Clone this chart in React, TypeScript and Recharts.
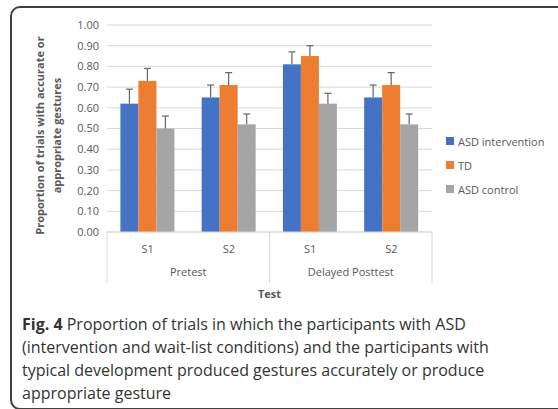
import React from 'react';
import { BarChart, Bar, XAxis, YAxis, CartesianGrid } from 'recharts';

// chart values
const tests = ['S1', 'S2', 'S1', 'S2'];
const phases = ['Pretest', 'Pretest', 'Delayed Posttest', 'Delayed Posttest'];
const asdIntervention = [0.62, 0.65, 0.81, 0.65];
const td = [0.73, 0.71, 0.85, 0.71];
const asdControl = [0.5, 0.52, 0.62, 0.52];
const asdInterventionErr = [0.07, 0.06, 0.06, 0.06];
const tdErr = [0.06, 0.06, 0.05, 0.06];
const asdControlErr = [0.06, 0.05, 0.05, 0.05];
const yTicks = [0, 0.1, 0.2, 0.3, 0.4, 0.5, 0.6, 0.7, 0.8, 0.9, 1.0];

const series = [
  { key: 'asdIntervention', name: 'ASD intervention', color: '#4472C4', err: asdInterventionErr },
  { key: 'td', name: 'TD', color: '#ED7D31', err: tdErr },
  { key: 'asdControl', name: 'ASD control', color: '#A5A5A5', err: asdControlErr },
];

const data = tests.map((t, i) => ({
  test: t,
  phase: phases[i],
  asdIntervention: asdIntervention[i],
  td: td[i],
  asdControl: asdControl[i],
}));

const W = 558;
const H = 310;
const MARGIN = { top: 25, right: 126, left: 0, bottom: 0 };
const Y_WIDTH = 107;
const X_HEIGHT = 78;
const BAND = (W - MARGIN.left - MARGIN.right - Y_WIDTH) / tests.length;

const FONT = '"Open Sans", sans-serif';
const TEXT = '#595959';
const GRID = '#d9d9d9';

// bar with a one-sided (upper) error whisker
function makeErrorShape(dataKey: string, errs: number[]) {
  return (props: any) => {
    const { x, y, width, height, fill, index, payload } = props;
    const v = payload[dataKey];
    const perUnit = v ? height / v : 0;
    const cx = x + width / 2;
    const top = y - errs[index] * perUnit;
    return (
      <g>
        <rect x={x} y={y} width={width} height={height} fill={fill} />
        <line x1={cx} y1={y} x2={cx} y2={top} stroke="#666" strokeWidth={1.2} />
        <line x1={cx - 3.5} y1={top} x2={cx + 3.5} y2={top} stroke="#666" strokeWidth={1.2} />
      </g>
    );
  };
}

function CategoryTick(props: any) {
  const { x, y, payload, index } = props;
  const first = index === 0 || phases[index] !== phases[index - 1];
  const last = index === phases.length - 1 || phases[index] !== phases[index + 1];
  let groupSize = 1;
  if (first) {
    while (phases[index + groupSize] === phases[index]) groupSize++;
  }
  return (
    <g>
      <text x={x} y={y + 21} textAnchor="middle" fill={TEXT} fontSize={11} fontFamily={FONT}>
        {payload.value}
      </text>
      {first && (
        <>
          <line x1={x - BAND / 2} y1={y} x2={x - BAND / 2} y2={y + 51} stroke={GRID} />
          <text
            x={x + ((groupSize - 1) * BAND) / 2}
            y={y + 44}
            textAnchor="middle"
            fill={TEXT}
            fontSize={11}
            fontFamily={FONT}
          >
            {phases[index]}
          </text>
        </>
      )}
      {last && <line x1={x + BAND / 2} y1={y} x2={x + BAND / 2} y2={y + 51} stroke={GRID} />}
    </g>
  );
}

function YLabel(props: any) {
  const { viewBox } = props;
  const cy = viewBox.y + viewBox.height / 2 + 7;
  const lines = [
    { text: 'Proportion of trials with accurate or', x: 44 },
    { text: 'appropriate gestures', x: 61 },
  ];
  return (
    <g>
      {lines.map((l) => (
        <text
          key={l.text}
          x={l.x}
          y={cy}
          transform={`rotate(-90 ${l.x} ${cy})`}
          textAnchor="middle"
          fill={TEXT}
          fontSize={11}
          fontWeight="bold"
          fontFamily={FONT}
        >
          {l.text}
        </text>
      ))}
    </g>
  );
}

export default function App() {
  return (
    <div
      style={{
        position: 'absolute',
        left: 0,
        top: 0,
        width: W,
        height: 409,
        overflow: 'hidden',
        background: '#fff',
      }}
    >
      {/* rounded frame of the figure */}
      <div
        style={{
          position: 'absolute',
          left: 10,
          top: 6,
          width: 600,
          height: 400,
          border: '2px solid #3f3f3f',
          borderRadius: 10,
        }}
      />

      <div style={{ position: 'absolute', left: 0, top: 0 }}>
        <BarChart width={W} height={H} data={data} margin={MARGIN} barCategoryGap="16.5%" barGap={0}>
          <CartesianGrid vertical={false} stroke={GRID} />
          <XAxis
            dataKey="test"
            height={X_HEIGHT}
            interval={0}
            axisLine={{ stroke: GRID }}
            tickLine={false}
            tickSize={0}
            tickMargin={0}
            tick={<CategoryTick />}
            label={{
              value: 'Test',
              position: 'insideBottom',
              offset: 12,
              fill: TEXT,
              fontSize: 11,
              fontWeight: 'bold',
              fontFamily: FONT,
            }}
          />
          <YAxis
            width={Y_WIDTH}
            domain={[0, 1]}
            ticks={yTicks}
            interval={0}
            axisLine={false}
            tickLine={false}
            tickFormatter={(v: number) => v.toFixed(2)}
            tick={{ fill: TEXT, fontSize: 11, fontFamily: FONT }}
            label={<YLabel />}
          />
          {series.map((s) => (
            <Bar
              key={s.key}
              dataKey={s.key}
              name={s.name}
              fill={s.color}
              isAnimationActive={false}
              shape={makeErrorShape(s.key, s.err)}
            />
          ))}
        </BarChart>
      </div>

      {/* legend */}
      <div style={{ position: 'absolute', left: 446, top: 129, fontFamily: FONT, fontSize: 11, color: TEXT }}>
        {series.map((s) => (
          <div key={s.key} style={{ display: 'flex', alignItems: 'center', height: 24 }}>
            <span style={{ width: 8, height: 8, background: s.color, marginRight: 4, display: 'inline-block' }} />
            <span>{s.name}</span>
          </div>
        ))}
      </div>

      {/* caption */}
      <div
        style={{
          position: 'absolute',
          left: 22,
          top: 313,
          width: 496,
          fontFamily: FONT,
          fontSize: 16,
          lineHeight: '23px',
          color: '#333',
        }}
      >
        <span style={{ fontWeight: 'bold' }}>Fig. 4</span> Proportion of trials in which the participants with
        ASD (intervention and wait-list conditions) and the participants with typical development produced
        gestures accurately or produce appropriate gesture
      </div>
    </div>
  );
}
